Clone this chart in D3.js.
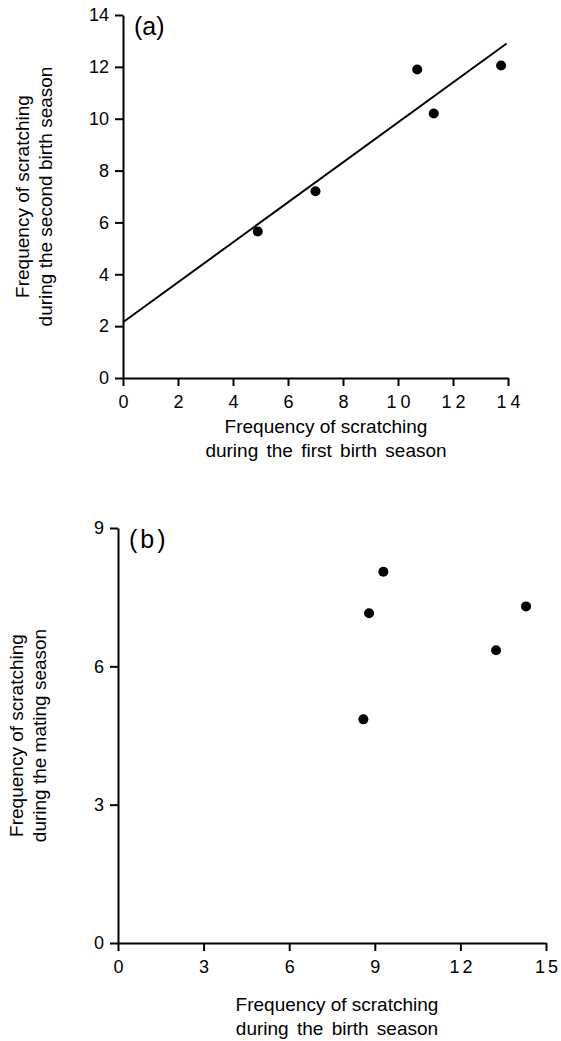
<!DOCTYPE html>
<html>
<head>
<meta charset="utf-8">
<script src="https://cdn.jsdelivr.net/npm/d3@7"></script>
<style>
  body { margin: 0; background: #fff; }
  text { font-family: "Liberation Sans", Arial, sans-serif; fill: #000; }
</style>
</head>
<body>
<script>
// panel (a): first vs second birth season
var firstBirth  = [4.9, 7.0, 10.7, 11.3, 13.75];
var secondBirth = [5.65, 7.2, 11.9, 10.2, 12.05];
var fitLine = [[0, 2.15], [13.95, 12.9]];
var ticksA = [0, 2, 4, 6, 8, 10, 12, 14];

// panel (b): birth season vs mating season
var birthSeason  = [9.3, 8.8, 14.3, 13.25, 8.6];
var matingSeason = [8.05, 7.15, 7.3, 6.35, 4.85];
var xTicksB = [0, 3, 6, 9, 12, 15];
var yTicksB = [0, 3, 6, 9];

var w = 561;
var h = 1041;

var svg = d3.select("body")
            .append("svg")
            .attr("width", w)
            .attr("height", h);

function panel(opts) {
  var x = d3.scaleLinear().domain([0, opts.xMax]).range([opts.left, opts.right]);
  var y = d3.scaleLinear().domain([0, opts.yMax]).range([opts.bottom, opts.top]);

  var xAxis = svg.append("g")
                 .attr("transform", "translate(0," + opts.bottom + ")")
                 .call(d3.axisBottom(x).tickValues(opts.xTicks).tickSize(8).tickSizeOuter(0).tickPadding(9));
  var yAxis = svg.append("g")
                 .attr("transform", "translate(" + opts.left + ",0)")
                 .call(d3.axisLeft(y).tickValues(opts.yTicks).tickSize(8).tickSizeOuter(0).tickPadding(6));

  [xAxis, yAxis].forEach(function(a){
    a.selectAll("path, line").attr("stroke", "#000").attr("stroke-width", 2);
  });
  xAxis.selectAll("text")
       .attr("font-size", 18)
       .attr("letter-spacing", function(d){ return d >= 10 ? opts.digitGap : 0; })
       .attr("dx", function(d){ return d >= 10 ? opts.digitGap / 2 : 0; });
  yAxis.selectAll("text").attr("font-size", opts.yTickSize);

  if (opts.fit) {
    svg.append("line")
       .attr("x1", x(opts.fit[0][0])).attr("y1", y(opts.fit[0][1]))
       .attr("x2", x(opts.fit[1][0])).attr("y2", y(opts.fit[1][1]))
       .attr("stroke", "#000")
       .attr("stroke-width", 2);
  }

  svg.selectAll(null)
     .data(opts.xs)
     .enter()
     .append("circle")
     .attr("cx", function(d){ return x(d); })
     .attr("cy", function(d, i){ return y(opts.ys[i]); })
     .attr("r", 5)
     .attr("fill", "#000");

  svg.append("text")
     .attr("x", opts.left + 11)
     .attr("y", opts.top + 20)
     .attr("font-size", 25)
     .attr("letter-spacing", opts.tagSpacing)
     .text(opts.tag);

  opts.xTitle.forEach(function(t, i){
    svg.append("text")
       .attr("x", opts.titleX)
       .attr("y", opts.xTitleY + i * 24)
       .attr("text-anchor", "middle")
       .attr("font-size", 19)
       .attr("word-spacing", i == 1 ? 3 : 0)
       .text(t);
  });

  var cy = (opts.top + opts.bottom) / 2;
  opts.yTitle.forEach(function(t, i){
    svg.append("text")
       .attr("transform", "translate(" + (opts.yTitleX + i * 23) + "," + cy + ") rotate(-90)")
       .attr("text-anchor", "middle")
       .attr("font-size", 19)
       .text(t);
  });
}

panel({
  xMax: 14, yMax: 14, left: 123, right: 508, top: 15, bottom: 378,
  xTicks: ticksA, yTicks: ticksA, xs: firstBirth, ys: secondBirth, fit: fitLine,
  tag: "(a)", tagSpacing: 0, yTickSize: 18, digitGap: 4,
  xTitle: ["Frequency of scratching", "during the first birth season"],
  xTitleY: 433, titleX: 326,
  yTitle: ["Frequency of scratching", "during the second birth season"],
  yTitleX: 29
});

panel({
  xMax: 15, yMax: 9, left: 118, right: 546, top: 528, bottom: 943,
  xTicks: xTicksB, yTicks: yTicksB, xs: birthSeason, ys: matingSeason, fit: null,
  tag: "(b)", tagSpacing: 3, yTickSize: 18, digitGap: 3,
  xTitle: ["Frequency of scratching", "during the birth season"],
  xTitleY: 1011, titleX: 337,
  yTitle: ["Frequency of scratching", "during the mating season"],
  yTitleX: 23
});
</script>
</body>
</html>
